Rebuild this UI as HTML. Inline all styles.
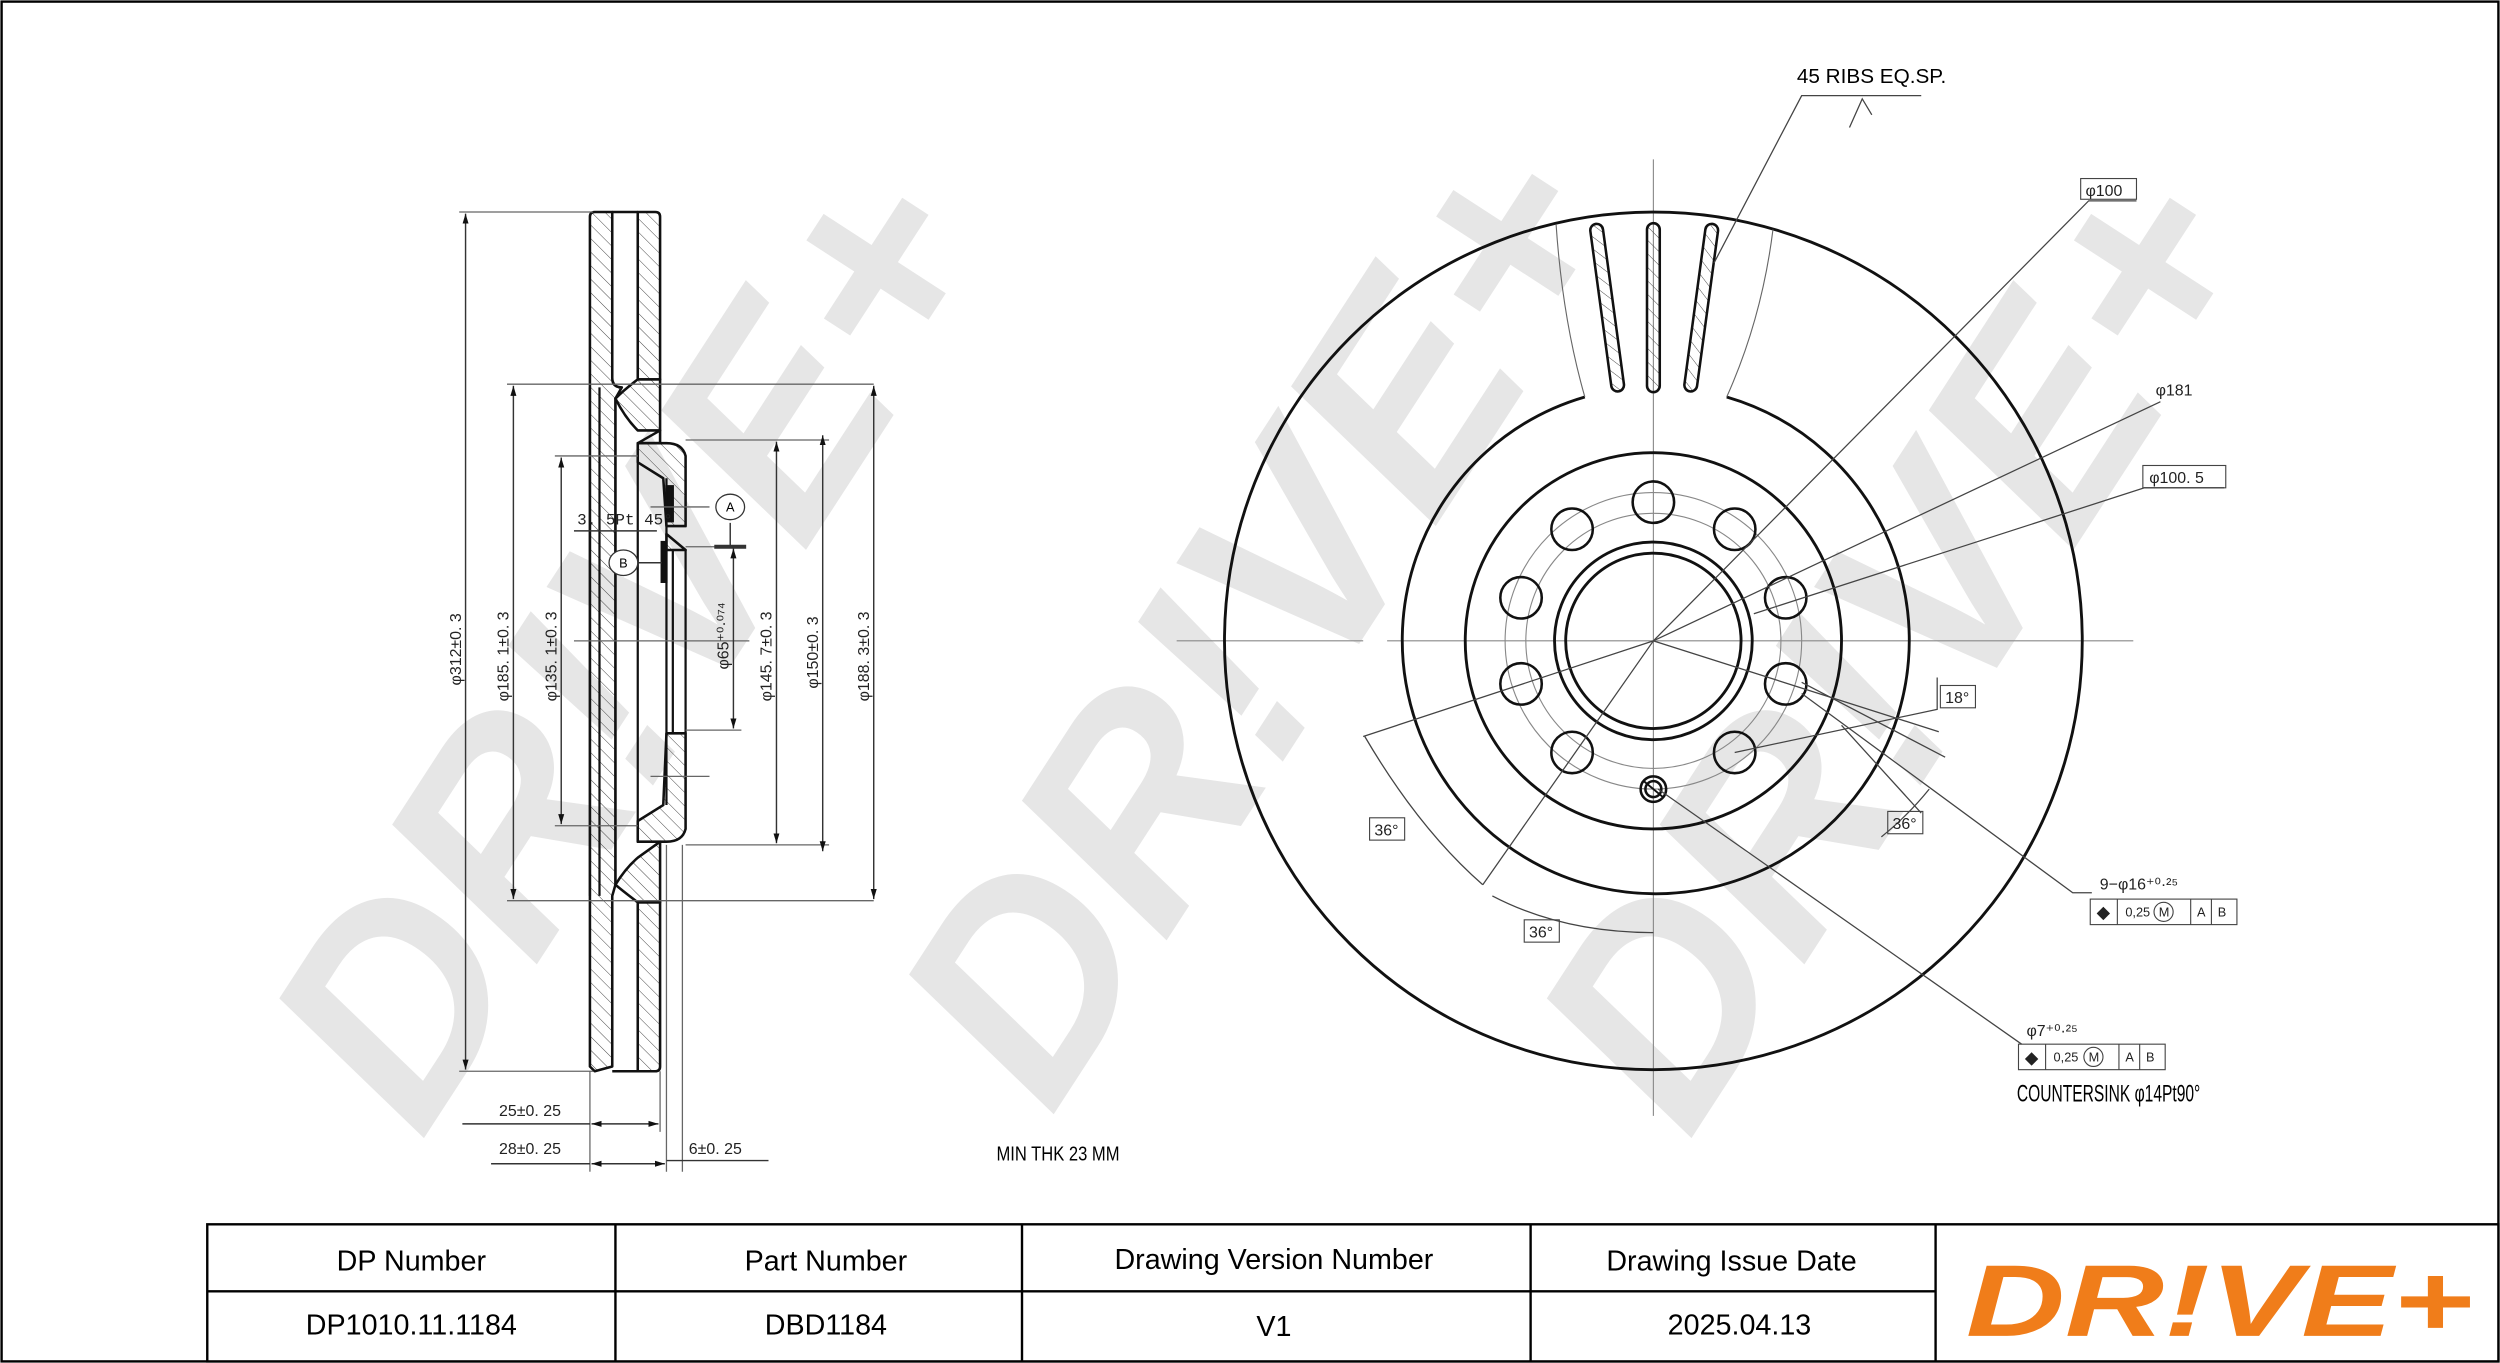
<!DOCTYPE html>
<html><head><meta charset="utf-8"><style>
html,body{margin:0;padding:0;background:#fff}
svg{display:block}
text{font-family:"Liberation Sans",sans-serif}
.m{font-family:"Liberation Mono",monospace;font-size:10px;fill:#222}
.n{font-family:"Liberation Sans Narrow","Liberation Sans",sans-serif}
</style></head><body>
<svg width="2500" height="1363" viewBox="0 0 1568 855" preserveAspectRatio="none" xmlns="http://www.w3.org/2000/svg">
<defs>
<pattern id="h" width="6" height="6" patternUnits="userSpaceOnUse" patternTransform="rotate(-45)"><line x1="0" y1="0" x2="0" y2="6" stroke="#444" stroke-width="0.6"/></pattern>
<marker id="a" viewBox="0 0 10 10" refX="10" refY="5" markerWidth="7" markerHeight="7" orient="auto-start-reverse"><path d="M0,2 L10,5 L0,8z" fill="#111"/></marker>
</defs>
<rect x="0" y="0" width="1568" height="855" fill="#fff"/>
<g fill="#e6e6e6" font-weight="bold" font-style="italic" font-size="180">
<text x="395" y="465" text-anchor="middle" transform="rotate(-57 395 405)">DR!VE+</text>
<text x="790" y="450" text-anchor="middle" transform="rotate(-57 790 390)">DR!VE+</text>
<text x="1190" y="465" text-anchor="middle" transform="rotate(-57 1190 405)">DR!VE+</text>
</g>
<rect x="1" y="1" width="1566" height="853" fill="none" stroke="#000" stroke-width="1.5"/>

<!-- SIDE VIEW -->
<g stroke="#111" stroke-width="1.6" fill="url(#h)" stroke-linejoin="round">
<path d="M370,136 Q370,133 373,133 L384,133 L384,237 Q384,243 390,243 L386,250 L386,555 L384,562 L384,669 L373,672 L370,669 Z"/>
<path d="M400,133 L411,133 Q414,133 414,136 L414,238 L400,238 Z"/>
<path d="M400,566 L414,566 L414,669 Q414,672 411,672 L400,672 Z"/>
<path d="M384,133 L400,133" fill="none"/><path d="M384,672 L400,672" fill="none"/>
<path d="M414,238 L414,270 L400,270 Q392,262 386,250 Q392,244 400,238 Z"/>
<path d="M400,278 L418,278 Q428,278 430,286 L430,330 L418,330 L416,300 L400,290 Z"/>
<path d="M414,270 L414,278 L400,278 Z" fill="none"/>
<path d="M418,335 L430,345 L418,345 Z"/>
<path d="M418,460 L430,460 L430,520 Q428,528 418,528 L400,528 L400,515 L416,505 Z"/>
<path d="M414,528 L414,566 L400,566 Q392,560 386,555 Q392,545 400,538 Z"/>
</g>
<g stroke="#111" stroke-width="1.4" fill="none">
<line x1="376" y1="243" x2="376" y2="562"/><line x1="386" y1="250" x2="386" y2="555"/>
<line x1="400" y1="290" x2="400" y2="515"/><line x1="418" y1="300" x2="418" y2="505"/>
<line x1="422" y1="345" x2="422" y2="460"/><line x1="430" y1="345" x2="430" y2="460"/>
<line x1="370" y1="243" x2="370" y2="562"/>
<rect x="415" y="340" width="3" height="25" fill="#111"/>
<rect x="418" y="305" width="4" height="22" fill="#111"/>
</g>
<g stroke="#666" stroke-width="0.8" fill="none">
<line x1="288" y1="133" x2="372" y2="133"/><line x1="288" y1="672" x2="372" y2="672"/>
<line x1="318" y1="241" x2="548" y2="241"/><line x1="318" y1="565" x2="548" y2="565"/>
<line x1="348" y1="286" x2="400" y2="286"/><line x1="348" y1="518" x2="400" y2="518"/>
<line x1="430" y1="276" x2="520" y2="276"/><line x1="430" y1="530" x2="520" y2="530"/>
<line x1="430" y1="343" x2="465" y2="343"/><line x1="430" y1="458" x2="465" y2="458"/>
<line x1="414" y1="672" x2="414" y2="710"/><line x1="418" y1="530" x2="418" y2="735"/><line x1="370" y1="672" x2="370" y2="735"/><line x1="428" y1="530" x2="428" y2="735"/>
<line x1="360" y1="402" x2="470" y2="402"/>
<line x1="408" y1="318" x2="445" y2="318"/><line x1="408" y1="487" x2="445" y2="487"/>
</g>
<g stroke="#333" stroke-width="0.9" fill="none" marker-start="url(#a)" marker-end="url(#a)">
<line x1="292" y1="134" x2="292" y2="671"/>
<line x1="322" y1="242" x2="322" y2="564"/>
<line x1="352" y1="287" x2="352" y2="517"/>
<line x1="460" y1="344" x2="460" y2="457"/>
<line x1="487" y1="277" x2="487" y2="529"/>
<line x1="516" y1="273" x2="516" y2="534"/>
<line x1="548" y1="242" x2="548" y2="564"/>
<line x1="371" y1="705" x2="413" y2="705"/>
<line x1="371" y1="730" x2="417" y2="730"/>
</g>
<g stroke="#333" stroke-width="0.9"><line x1="290" y1="705" x2="370" y2="705"/><line x1="308" y1="730" x2="370" y2="730"/><line x1="418" y1="728" x2="482" y2="728"/><line x1="448" y1="343" x2="468" y2="343" stroke-width="2.5"/><line x1="458" y1="328" x2="458" y2="343"/><line x1="398" y1="353" x2="415" y2="353"/><line x1="360" y1="333" x2="412" y2="333"/></g>
<ellipse cx="458" cy="318" rx="9" ry="8" fill="#fff" stroke="#333" stroke-width="0.8"/><text x="458" y="321" font-size="8" text-anchor="middle" font-family="Liberation Serif">A</text>
<ellipse cx="391" cy="353" rx="9" ry="8" fill="#fff" stroke="#333" stroke-width="0.8"/><text x="391" y="356" font-size="8" text-anchor="middle" font-family="Liberation Serif">B</text>
<text class="m" x="362" y="329">3. 5Pt 45°</text>
<g class="m">
<text transform="translate(289 430) rotate(-90)">φ312±0. 3</text>
<text transform="translate(319 440) rotate(-90)">φ185. 1±0. 3</text>
<text transform="translate(349 440) rotate(-90)">φ135. 1±0. 3</text>
<text transform="translate(457 420) rotate(-90)">φ65⁺⁰·⁰⁷⁴</text>
<text transform="translate(484 440) rotate(-90)">φ145. 7±0. 3</text>
<text transform="translate(513 432) rotate(-90)">φ150±0. 3</text>
<text transform="translate(545 440) rotate(-90)">φ188. 3±0. 3</text>
<text x="313" y="700">25±0. 25</text>
<text x="313" y="724">28±0. 25</text>
<text x="432" y="724">6±0. 25</text>
</g>
<text x="625" y="728" font-size="13" class="n" transform="translate(625 0) scale(0.8 1) translate(-625 0)">MIN THK 23 MM</text>

<!-- FRONT VIEW -->
<g stroke="#888" stroke-width="0.7" fill="none">
<line x1="738" y1="402" x2="855" y2="402"/><line x1="870" y1="402" x2="1338" y2="402"/>
<line x1="1037" y1="100" x2="1037" y2="700"/>
</g>
<g stroke="#111" stroke-width="1.8" fill="none">
<circle cx="1037" cy="402" r="269"/>
<path d="M994,249 A159,159 0 1 0 1083,249"/>
<circle cx="1037" cy="402" r="118"/>
<circle cx="1037" cy="402" r="62"/>
<circle cx="1037" cy="402" r="55"/>
</g>
<g stroke="#666" stroke-width="0.7" fill="none">
<path d="M994,249 Q980,200 976,141"/>
<path d="M1083,249 Q1105,200 1112,144"/>
</g>
<g stroke="#111" stroke-width="1.6" fill="url(#h)">
<rect x="1004" y="140" width="8" height="106" rx="4" transform="rotate(-7.7 1008 193)"/>
<rect x="1033" y="140" width="8" height="106" rx="4"/>
<rect x="1063" y="140" width="8" height="106" rx="4" transform="rotate(7.7 1067 193)"/>
</g>
<circle cx="1037" cy="402" r="93" fill="none" stroke="#888" stroke-width="0.7"/>
<circle cx="1037" cy="402" r="80" fill="none" stroke="#888" stroke-width="0.7"/>
<g stroke="#111" stroke-width="1.6" fill="none">
<circle cx="1037" cy="315" r="13"/><circle cx="1088" cy="332" r="13"/><circle cx="1120" cy="375" r="13"/><circle cx="1120" cy="429" r="13"/><circle cx="1088" cy="472" r="13"/><circle cx="986" cy="472" r="13"/><circle cx="954" cy="429" r="13"/><circle cx="954" cy="375" r="13"/><circle cx="986" cy="332" r="13"/>
<circle cx="1037" cy="495" r="8"/><circle cx="1037" cy="495" r="5"/>
</g>
<line x1="1031" y1="490" x2="1043" y2="500" stroke="#111" stroke-width="1.2"/>
<g stroke="#444" stroke-width="0.8" fill="none">
<path d="M1037,402 L1310,126 L1340,126"/>
<path d="M1037,402 L1355,252"/>
<path d="M1100,385 L1345,306 L1395,306"/>
<path d="M1130,435 L1300,560 L1312,560"/>
<path d="M1040,495 L1268,655"/>
<path d="M1075,165 L1130,60 L1205,60"/>
<path d="M1160,80 L1168,62 L1174,72"/>
<path d="M1088,472 L1215,445 L1215,425"/>
<path d="M1130,428 L1220,475 M1155,455 L1205,510"/>
<path d="M856,462 Q890,520 930,555 M936,562 Q980,585 1037,585"/>
<path d="M1210,495 A200,200 0 0 1 1180,525"/>
<line x1="1037" y1="402" x2="855" y2="462"/><line x1="1037" y1="402" x2="930" y2="555"/>
<line x1="1037" y1="402" x2="1216" y2="459"/>
</g>
<g class="m">
<text x="1308" y="123">φ100</text><rect x="1305" y="112" width="35" height="13" fill="none" stroke="#444" stroke-width="0.7"/>
<text x="1352" y="248">φ181</text>
<text x="1348" y="303">φ100. 5</text><rect x="1344" y="292" width="52" height="14" fill="none" stroke="#444" stroke-width="0.7"/>
<text x="1220" y="441">18°</text><rect x="1217" y="430" width="22" height="14" fill="none" stroke="#444" stroke-width="0.7"/>
<text x="1187" y="520">36°</text><rect x="1184" y="509" width="22" height="14" fill="none" stroke="#444" stroke-width="0.7"/>
<text x="862" y="524">36°</text><rect x="859" y="513" width="22" height="14" fill="none" stroke="#444" stroke-width="0.7"/>
<text x="959" y="588">36°</text><rect x="956" y="577" width="22" height="14" fill="none" stroke="#444" stroke-width="0.7"/>
<text x="1317" y="558">9−φ16⁺⁰·²⁵</text>
<text x="1271" y="650">φ7⁺⁰·²⁵</text>
</g>
<text x="1127" y="52" font-size="13" class="n">45 RIBS EQ.SP.</text>
<g stroke="#444" stroke-width="0.7" fill="none">
<rect x="1311" y="564" width="92" height="16"/><line x1="1328" y1="564" x2="1328" y2="580"/><line x1="1374" y1="564" x2="1374" y2="580"/><line x1="1387" y1="564" x2="1387" y2="580"/>
<rect x="1266" y="655" width="92" height="16"/><line x1="1283" y1="655" x2="1283" y2="671"/><line x1="1329" y1="655" x2="1329" y2="671"/><line x1="1342" y1="655" x2="1342" y2="671"/>
<circle cx="1357" cy="572" r="6"/><circle cx="1313" cy="663" r="6"/>
</g>
<g font-size="8" font-family="Liberation Serif" fill="#222">
<text x="1315" y="576" font-size="11">◆</text><text x="1333" y="575">0,25</text><text x="1354" y="575">M</text><text x="1378" y="575">A</text><text x="1391" y="575">B</text>
<text x="1270" y="667" font-size="11">◆</text><text x="1288" y="666">0,25</text><text x="1310" y="666">M</text><text x="1333" y="666">A</text><text x="1346" y="666">B</text>
</g>
<text x="1265" y="691" font-size="15" class="n" textLength="115" lengthAdjust="spacingAndGlyphs">COUNTERSINK  φ14Pt90°</text>

<!-- TABLE -->
<rect x="130" y="768" width="1437" height="86" fill="#fff"/>
<g stroke="#000" stroke-width="1.5" fill="none">
<rect x="130" y="768" width="1437" height="86"/>
<line x1="130" y1="810" x2="1214" y2="810"/>
<line x1="386" y1="768" x2="386" y2="854"/><line x1="641" y1="768" x2="641" y2="854"/><line x1="960" y1="768" x2="960" y2="854"/><line x1="1214" y1="768" x2="1214" y2="854"/>
</g>
<g font-size="18" text-anchor="middle" fill="#000">
<text x="258" y="797">DP Number</text><text x="518" y="797">Part Number</text><text x="799" y="796">Drawing Version Number</text><text x="1086" y="797">Drawing Issue Date</text>
<text x="258" y="837">DP1010.11.1184</text><text x="518" y="837">DBD1184</text><text x="799" y="838">V1</text><text x="1091" y="837">2025.04.13</text>
</g>
<text x="1233" y="838" font-size="64" font-weight="bold" font-style="italic" fill="#f07d1a" textLength="318" lengthAdjust="spacingAndGlyphs">DR!VE+</text>
</svg>
</body></html>
